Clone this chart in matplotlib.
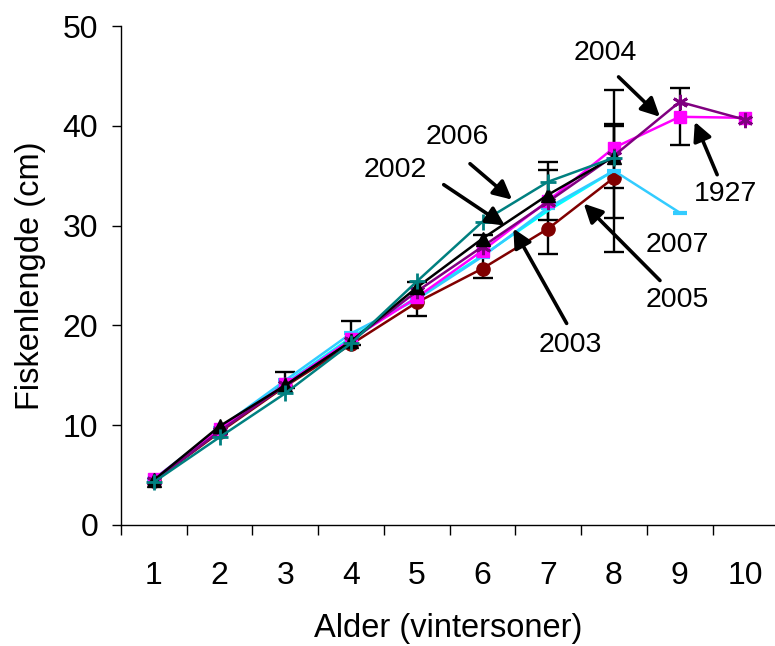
import numpy as np
import matplotlib
matplotlib.use("Agg")
import matplotlib.pyplot as plt
from matplotlib.ticker import FixedLocator

plt.rcParams["font.family"] = ["Liberation Sans", "DejaVu Sans"]

# ---------------- data ----------------
ages = [1, 2, 3, 4, 5, 6, 7, 8, 9, 10]

len_1927 = [4.6, 9.6, 14.1, 18.6, 22.8, 27.5, 32.5, 37.8, 40.9, 40.8]
len_2002 = [4.5, 9.9, 14.0, 18.4, 23.8, 28.7, 33.1, 36.9]
len_2003 = [4.5, 9.5, 14.2, 18.8, 22.8, 27.0, 31.5, 35.5]
len_2004 = [4.4, 9.4, 14.0, 18.4, 23.4, 27.9, 32.4, 37.0, 42.4, 40.6]
len_2005 = [4.4, 9.3, 13.9, 18.1, 22.3, 25.7, 29.7, 34.8]
len_2006 = [4.3, 8.8, 13.2, 18.2, 24.4, 30.4, 34.4, 36.8]
len_2007 = [4.6, 9.7, 14.5, 19.2, 22.6, 26.9, 31.8, 35.5, 31.3]

# standardavvik (nan = ingen feilstolpe)
err_1927 = [np.nan] * 8 + [2.85, np.nan]
err_2002 = [np.nan] * 6 + [2.5, 3.1]
err_2003 = [np.nan] * 7 + [4.7]
err_2007 = [np.nan, np.nan, 0.8, 1.2, 1.7, 2.2, 4.6, 8.1, np.nan]

# (data, feil, farge, markør, str)
series = [
    (len_2005, None, "#800000", "o", 9.5),
    (len_2003, err_2003, "#00FFFF", None, 0),
    (len_2007, err_2007, "#33CCFF", "_", 10),
    (len_1927, err_1927, "#FF00FF", "s", 9),
    (len_2004, None, "#800080", (6, 2, 0), 11),
    (len_2002, err_2002, "#000000", "^", 10),
    (len_2006, None, "#008080", "+", 11),
]

# ---------------- figur ----------------
fig = plt.figure(figsize=(7.75, 6.46), dpi=100)
ax = fig.add_axes([121 / 775, 121 / 646, 654 / 775, 499 / 646])

# feilstolper først
for vals, err, col, mk, ms in series:
    if err is None:
        continue
    x = np.array(ages[:len(vals)])
    ax.errorbar(x, vals, yerr=err, fmt="none", ecolor="black",
                elinewidth=1.7, capsize=7, capthick=1.7, zorder=2)

for vals, err, col, mk, ms in series:
    x = ages[:len(vals)]
    ax.plot(x, vals, color=col, lw=1.8, marker=mk, markersize=ms,
            markeredgewidth=3 if mk == "_" else (2 if mk in ("+", (6, 2, 0)) else 1),
            markerfacecolor=col, markeredgecolor=col, zorder=3)

ax.set_xlim(0.5, 10.45)
ax.set_ylim(0, 50)
ax.set_yticks([0, 10, 20, 30, 40, 50])
ax.set_xticks(ages)
ax.xaxis.set_minor_locator(FixedLocator(np.arange(0.5, 10.6, 1)))
ax.tick_params(axis="x", which="major", length=0, labelsize=23, pad=26)
ax.tick_params(axis="x", which="minor", length=7, width=1, direction="out")
ax.tick_params(axis="y", length=6.5, width=1, labelsize=23, direction="out", pad=10)
for s in ("top", "right"):
    ax.spines[s].set_visible(False)
ax.spines["left"].set_linewidth(1)
ax.spines["bottom"].set_linewidth(1)

ax.set_xlabel("Alder (vintersoner)", fontsize=23.5, labelpad=16)
ax.set_ylabel("Fiskenlengde (cm)", fontsize=23.5, labelpad=12)

arrow = dict(arrowstyle="-|>", color="black", lw=2.6, mutation_scale=28,
             shrinkA=0, shrinkB=0)
# (tekst, tekstposisjon, pilstart, pilspiss)
notes = [
    ("2004", (7.87, 47.3), (8.07, 44.9), (8.70, 40.9)),
    ("2006", (5.61, 38.9), (5.81, 36.2), (6.45, 32.6)),
    ("2002", (4.67, 35.6), (5.41, 34.1), (6.34, 30.0)),
    ("2003", (7.34, 18.0), (7.28, 20.2), (6.47, 29.7)),
    ("1927", (9.69, 33.2), (9.57, 35.1), (9.23, 40.4)),
    ("2005", (8.97, 22.5), (8.70, 24.5), (7.54, 32.2)),
    ("2007", (8.97, 28.1), None, None),
]
for txt, xyt, tail, head in notes:
    ax.text(xyt[0], xyt[1], txt, fontsize=20.5, ha="center", va="center",
            zorder=5, clip_on=False)
    if tail is not None:
        ax.annotate("", xy=head, xytext=tail, arrowprops=arrow,
                    annotation_clip=False, zorder=5)

fig.savefig("out.png", dpi=100)
